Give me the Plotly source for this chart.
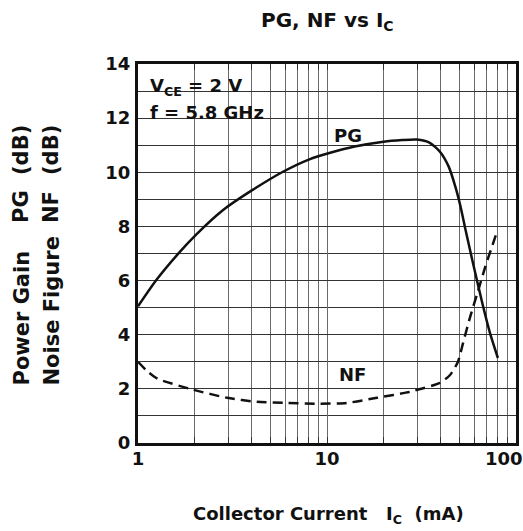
import plotly.graph_objects as go

# ---- data ----
pg_x = [1.0, 1.25, 1.66, 2.03, 2.81, 4.02, 5.85, 8.07, 10.4, 14.0, 19.9, 25.0, 29.8, 35.0, 39.6, 44.1, 47.8, 50.9, 54.1, 58.7, 66.3, 72.8, 80.2]
pg_y = [5.05, 6.02, 7.05, 7.7, 8.6, 9.34, 10.02, 10.48, 10.72, 10.95, 11.13, 11.19, 11.21, 11.09, 10.76, 10.2, 9.46, 8.73, 7.87, 6.76, 5.17, 4.07, 3.14]

nf_x = [1.0, 1.12, 1.25, 1.31, 1.95, 2.96, 4.26, 6.14, 8.87, 12.7, 18.4, 27.4, 39.6, 44.9, 49.3, 52.5, 57.2, 62.5, 68.7, 74.5, 79.2]
nf_y = [3.0, 2.65, 2.4, 2.33, 1.97, 1.67, 1.52, 1.48, 1.45, 1.48, 1.67, 1.89, 2.22, 2.52, 3.0, 3.7, 4.66, 5.54, 6.5, 7.24, 7.79]

x_tickvals = [1, 10]
x_ticktext = ["1", "10"]
x_last_tick = 100          # its label is placed at the axis end (kept inside the page)
x_last_label = "100"
y_tickvals = [0, 2, 4, 6, 8, 10, 12, 14]

FONT = "DejaVu Sans"
INK = "#111"

fig = go.Figure()
fig.add_trace(go.Scatter(x=pg_x, y=pg_y, mode="lines",
                         line=dict(color=INK, width=2.5, shape="spline", smoothing=0.6),
                         hoverinfo="skip", showlegend=False))
fig.add_trace(go.Scatter(x=nf_x, y=nf_y, mode="lines",
                         line=dict(color=INK, width=2.5, dash="10px,6px", shape="spline", smoothing=0.6),
                         hoverinfo="skip", showlegend=False))

W, H = 523, 531
L, R, T, B = 138, 7, 64, 88
pw, ph = W - L - R, H - T - B


def px(xp):
    return (xp - L) / pw


def py(yp):
    return (H - B - yp) / ph


# white box behind condition text
fig.add_shape(type="rect", xref="paper", yref="paper", x0=0, x1=px(266), y0=py(126), y1=1,
              fillcolor="white", line=dict(width=0), layer="between")

tf = dict(family=FONT, size=18, color=INK, weight="bold")
ann = [
    dict(text="V<sub>CE</sub> = 2 V", x=px(148), y=py(87), xanchor="left", yanchor="middle"),
    dict(text="f = 5.8 GHz", x=px(148), y=py(112), xanchor="left", yanchor="middle"),
    dict(text="PG", x=px(348), y=py(135), xanchor="center", yanchor="middle"),
    dict(text="NF", x=px(352), y=py(374), xanchor="center", yanchor="middle"),
]
for a in ann:
    a.update(xref="paper", yref="paper", showarrow=False, font=tf)
    fig.add_annotation(**a)

tickfont = dict(family=FONT, size=18, color=INK, weight="bold")

# last x tick label, anchored at the axis value 100 but right-aligned so it stays on the page
import math
fig.add_annotation(text=x_last_label, xref="x", yref="paper", x=math.log10(x_last_tick), y=py(458),
                   xanchor="right", yanchor="middle", xshift=9, showarrow=False, font=tickfont)

# chart title
fig.add_annotation(text="PG, NF vs I<sub>C</sub>", xref="paper", yref="paper", x=px(327), y=py(21),
                   xanchor="center", yanchor="middle", showarrow=False,
                   font=dict(family=FONT, size=20, color=INK, weight="bold"))
# x axis title
fig.add_annotation(text="Collector Current\u00a0\u00a0\u00a0I<sub>C</sub>\u00a0\u00a0(mA)", xref="paper", yref="paper",
                   x=px(328), y=py(515), xanchor="center", yanchor="middle", showarrow=False,
                   font=dict(family=FONT, size=18, color=INK, weight="bold"))
# y axis title pieces (rotated)
yf = dict(family=FONT, size=21, color=INK, weight="bold")
for xc, parts in [(21, ["Power Gain", "PG", "(dB)"]), (51, ["Noise Figure", "NF", "(dB)"])]:
    fig.add_annotation(text=parts[0], xref="paper", yref="paper", x=px(xc), y=py(388), xanchor="center",
                       yanchor="bottom", textangle=-90, showarrow=False, font=yf)
    fig.add_annotation(text=parts[1], xref="paper", yref="paper", x=px(xc), y=py(207), xanchor="center",
                       yanchor="middle", textangle=-90, showarrow=False, font=yf)
    fig.add_annotation(text=parts[2], xref="paper", yref="paper", x=px(xc), y=py(150), xanchor="center",
                       yanchor="middle", textangle=-90, showarrow=False, font=yf)

fig.update_xaxes(type="log", range=[0, 2], tickvals=x_tickvals, ticktext=x_ticktext,
                 showgrid=True, gridcolor="#6a6a6a", gridwidth=1.3,
                 minor=dict(dtick="D1", showgrid=True, gridcolor="#6a6a6a", gridwidth=1.3,
                            ticks="inside", ticklen=6, tickcolor="#333", tickwidth=1),
                 ticks="inside", ticklen=6, tickcolor="#333",
                 showline=True, linecolor=INK, linewidth=3, mirror="ticks",
                 ticklabelstandoff=-3, automargin=False,
                 tickfont=tickfont, zeroline=False)
fig.update_yaxes(range=[0, 14], tickvals=y_tickvals,
                 showgrid=True, gridcolor="#333", gridwidth=1,
                 minor=dict(dtick=1, showgrid=True, gridcolor="#333", gridwidth=1,
                            ticks="inside", ticklen=6, tickcolor="#333", tickwidth=1),
                 ticks="inside", ticklen=6, tickcolor="#333",
                 showline=True, linecolor=INK, linewidth=3, mirror="ticks",
                 automargin=False, ticklabelstandoff=1, tickfont=tickfont, zeroline=False)

fig.update_layout(width=W, height=H, margin=dict(l=L, r=R, t=T, b=B, autoexpand=False),
                  paper_bgcolor="white", plot_bgcolor="white", showlegend=False)

fig.write_html("out.html", config={"displayModeBar": False},
               post_script="document.body.style.margin='0';document.body.style.padding='0';")
